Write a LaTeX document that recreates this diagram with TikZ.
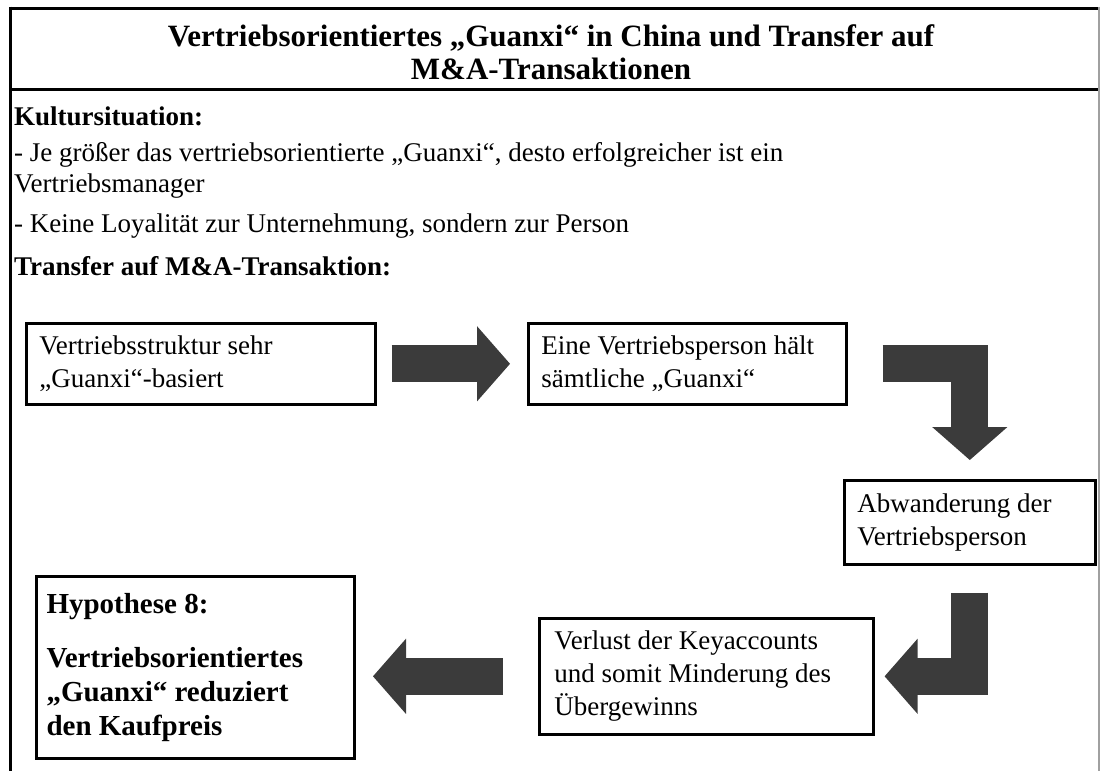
\documentclass[tikz,border=0pt]{standalone}
\usepackage{fontspec}
\setmainfont{Liberation Serif}
\usepackage{xcolor}
\usepackage{tikz}
\usetikzlibrary{arrows.meta,calc}
\definecolor{ink}{HTML}{000000}
\definecolor{arrowgrey}{HTML}{3B3B3B}
\definecolor{rule}{HTML}{A0A0A0}

\begin{document}
\begin{tikzpicture}[x=1pt, y=-1pt,
    box/.style={draw=ink, line width=2.6pt, anchor=north west, inner xsep=13pt, inner ysep=0pt, align=flush left, font=\fontsize{27}{33}\selectfont},
    bodytext/.style={inner sep=0pt, align=flush left, font=\fontsize{27}{31}\selectfont},
    blockarrow/.style={arrowgrey, line width=37pt, -{Triangle[length=33pt, width=75pt, line width'=1.5pt]}}]
    \useasboundingbox (0,0) rectangle (1102,771);
    % The frame of the table, open at the bottom.
    \draw[ink, line width=3pt] (10,8) -- (1099,8);
    \draw[ink, line width=3pt] (10,89) -- (1099,89);
    \draw[ink, line width=3pt] (10,6.5) -- (10,771);
    \draw[rule, line width=1.5pt] (1099,6.5) -- (1099,771);
    \node[font=\fontsize{31}{33}\selectfont\bfseries, align=center] (title) at (551,52)
      {Vertriebsorientiertes „Guanxi“ in China und Transfer auf\\M\&A-Transaktionen};
    % The cultural situation.
    \node[bodytext, anchor=base west, font=\fontsize{27}{31}\selectfont\bfseries] (kultur) at (14,125) {Kultursituation:};
    \node[bodytext, anchor=north west] (groesser) at (14,142)
      {- Je größer das vertriebsorientierte „Guanxi“, desto erfolgreicher ist ein\\Vertriebsmanager};
    \node[bodytext, anchor=base west] (loyal) at (14,232) {- Keine Loyalität zur Unternehmung, sondern zur Person};
    \node[bodytext, anchor=base west, font=\fontsize{27}{31}\selectfont\bfseries] (transfer) at (14,275) {Transfer auf M\&A-Transaktion:};
    % The chain of boxes.
    \node[box, text width=323pt, minimum height=81pt] (struktur) at (25,322) {Vertriebsstruktur sehr\\„Guanxi“-basiert};
    \node[box, text width=292pt, minimum height=81pt] (person) at (527,322) {Eine Vertriebsperson hält\\sämtliche „Guanxi“};
    \node[box, text width=225pt, minimum height=84pt] (abwanderung) at (843,479) {Abwanderung der\\Vertriebsperson};
    \node[box, text width=304pt, inner xsep=15pt, minimum height=116pt] (verlust) at (538,617)
      {Verlust der Keyaccounts\\und somit Minderung des\\Übergewinns};
    \node[box, line width=3pt, text width=298pt, inner xsep=10pt, minimum height=182pt, font=\fontsize{29}{34}\selectfont\bfseries] (hypo) at (35,575)
      {Hypothese 8:\\[20pt]Vertriebsorientiertes\\„Guanxi“ reduziert\\den Kaufpreis};
    % Block arrows between the boxes.
    \draw[blockarrow, shorten <=15pt, shorten >=17pt] (struktur) -- (person);
    \draw[blockarrow, shorten <=35pt, shorten >=19pt] (person) -| (abwanderung);
    \draw[blockarrow, shorten <=27pt, shorten >=10pt] (abwanderung) |- (verlust);
    \draw[blockarrow, shorten <=35pt, shorten >=17pt] (verlust.west) -- (verlust.west -| hypo.east);
  \end{tikzpicture}
\end{document}
